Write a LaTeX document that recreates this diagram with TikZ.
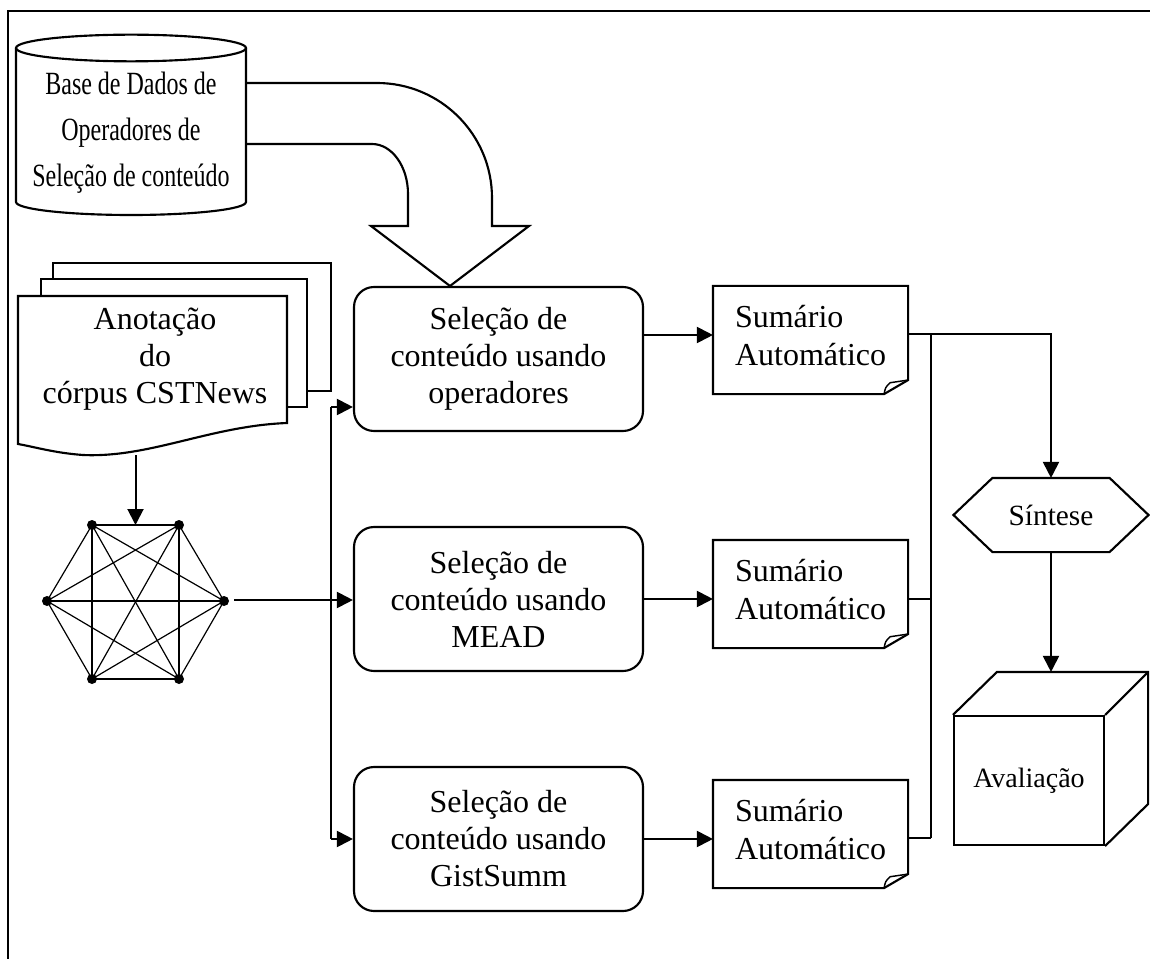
\documentclass[tikz,border=0pt]{standalone}
\usepackage{fontspec}
\setmainfont{Liberation Serif}
\usetikzlibrary{arrows.meta,calc}
\begin{document}
\begin{tikzpicture}[x=0.75pt,y=-0.75pt,
  line width=1.6pt, line join=miter,
  arr/.style={-{Triangle[length=12pt,width=12pt]}, line width=1.5pt},
  conn/.style={line width=1.5pt},
  selbox/.style={draw, rounded corners=15pt, minimum width=216.75pt, minimum height=108pt,
    align=center, inner sep=0pt, font=\fontsize{24}{27.75}\selectfont},
  sumbox/.style={minimum width=144.75pt, minimum height=79.5pt, inner sep=0pt},
  sumtxt/.style={anchor=west, align=left, inner sep=0pt, font=\fontsize{24}{28.5}\selectfont},
  gdot/.style={circle, fill=black, inner sep=0pt, minimum size=7.5pt},
  gedge/.style={line width=0.9pt}
]
\useasboundingbox (0,0) rectangle (1150,959);
% frame
\draw[line width=1.8pt] (8,959) -- (8,11) -- (1150,11);

% database cylinder
\draw[fill=white] (16,48) -- (16,202) arc[start angle=180,end angle=360,x radius=86.25pt,y radius=9.75pt] -- (246,48);
\draw (131,48) ellipse[x radius=86.25pt, y radius=10pt];
\node (db) at (131,131) {\scalebox{1}[1.35]{\fontsize{18}{25.5}\selectfont\begin{tabular}{@{}c@{}}Base de Dados de\\Operadores de\\Seleção de conteúdo\end{tabular}}};

% curved block arrow
\draw (246,83) -- (377,83) arc[start angle=90,end angle=0,x radius=86.25pt,y radius=86.25pt]
  -- (492,226) -- (529,226) -- (450,286) -- (371,226) -- (408,226) -- (408,194)
  arc[start angle=0,end angle=90,x radius=27pt,y radius=37.5pt] -- (246,144);

% document stack
\draw[fill=white] (53,263) rectangle (331,391);
\draw[fill=white] (41,279) rectangle (307,407);
\draw[fill=white] (18,296) -- (287,296) -- (287,423)
  .. controls (210,426) and (150,458) .. (83,455)
  .. controls (55,453) and (35,447) .. (18,444) -- cycle;
\node[align=center, font=\fontsize{24}{27.5}\selectfont] (doc) at (155,359) {Anotação\\do\\córpus CSTNews};
\coordinate (docbot) at (135.5,455);

% graph
\node[gdot] (g1) at (92,525) {};
\node[gdot] (g2) at (179,525) {};
\node[gdot] (g3) at (224,601) {};
\node[gdot] (g4) at (179,679) {};
\node[gdot] (g5) at (92,679) {};
\node[gdot] (g6) at (47,601) {};
\foreach \i/\j in {1/2,1/3,1/4,1/5,1/6,2/3,2/4,2/5,2/6,3/4,3/5,3/6,4/5,4/6,5/6}
  \draw[gedge] (g\i.center) -- (g\j.center);
\draw[arr] (docbot) -- ($(g1)!0.5!(g2)$);

% selection boxes
\node[selbox] (b1) at (498.5,359) {Seleção de\\conteúdo usando\\operadores};
\node[selbox] (b2) at (498.5,599) {Seleção de\\conteúdo usando\\MEAD};
\node[selbox] (b3) at (498.5,839) {Seleção de\\conteúdo usando\\GistSumm};

% inputs
\coordinate (gout) at (234,600);
\draw[arr] (gout) -- (gout -| b2.west);
\coordinate (bus1) at (331,407);
\coordinate (bus3) at (331,839);
\draw[conn] (bus1) -- (bus3);
\draw[arr] (bus1) -- (bus1 -| b1.west);
\draw[arr] (bus3) -- (bus3 -| b3.west);

% summary documents
\foreach \n/\y in {s1/340,s2/594,s3/834}{
  \node[sumbox] (\n) at (810.5,\y) {};
  \draw (\n.north west) -- (\n.north east) -- ([yshift=10.5pt]\n.south east)
    -- ([xshift=-18pt]\n.south east) -- (\n.south west) -- cycle;
  \draw[line width=1.1pt] ([xshift=-18pt]\n.south east) .. controls ([xshift=-17pt,yshift=5pt]\n.south east) .. ([xshift=-13.5pt,yshift=8.5pt]\n.south east) -- ([yshift=10.5pt]\n.south east);
}
\node[sumtxt] (s1t) at ($(s1.west)+(21,-4)$) {Sumário\\Automático};
\node[sumtxt] (s2t) at ($(s2.west)+(21,-4)$) {Sumário\\Automático};
\node[sumtxt] (s3t) at ($(s3.west)+(21,-4)$) {Sumário\\Automático};

\coordinate (b1o) at ([yshift=18pt]b1.east);
\draw[arr] (b1o) -- (b1o -| s1.west);
\draw[arr] (b2.east) -- (b2.east -| s2.west);
\draw[arr] (b3.east) -- (b3.east -| s3.west);

% synthesis hexagon
\node[minimum width=144.75pt, minimum height=54pt, inner sep=0pt, font=\fontsize{22}{26}\selectfont] (syn) at (1051,515) {Síntese};
\draw (syn.west) -- ([xshift=29.25pt]syn.north west) -- ([xshift=-29.25pt]syn.north east)
  -- (syn.east) -- ([xshift=-29.25pt]syn.south east) -- ([xshift=29.25pt]syn.south west) -- cycle;

% outputs
\coordinate (s1o) at ([yshift=4.5pt]s1.east);
\coordinate (s2o) at ([yshift=-3.75pt]s2.east);
\coordinate (s3o) at ([yshift=-3pt]s3.east);
\coordinate (jt) at (931,334);
\coordinate (jb) at (931,838);
\draw[arr] (s1o) -| (syn.north);
\draw[conn] (jt) -- (jb);
\draw[conn] (s2o) -- (s2o -| jt);
\draw[conn] (s3o) -- (s3o -| jb);

% evaluation cube
\node[draw, minimum width=112.5pt, minimum height=96.75pt, inner sep=0pt, font=\fontsize{21}{24}\selectfont] (aval) at (1029,780.5) {Avaliação};
\draw (aval.north west) -- ++(44,-43) -| ($(aval.south east)+(43,-42)$) -- (aval.south east);
\draw (aval.north east) -- ++(43,-43);
\coordinate (avtop) at ($(aval.north)+(22,-43)$);
\draw[arr] (syn.south) -- (avtop);
\end{tikzpicture}
\end{document}
